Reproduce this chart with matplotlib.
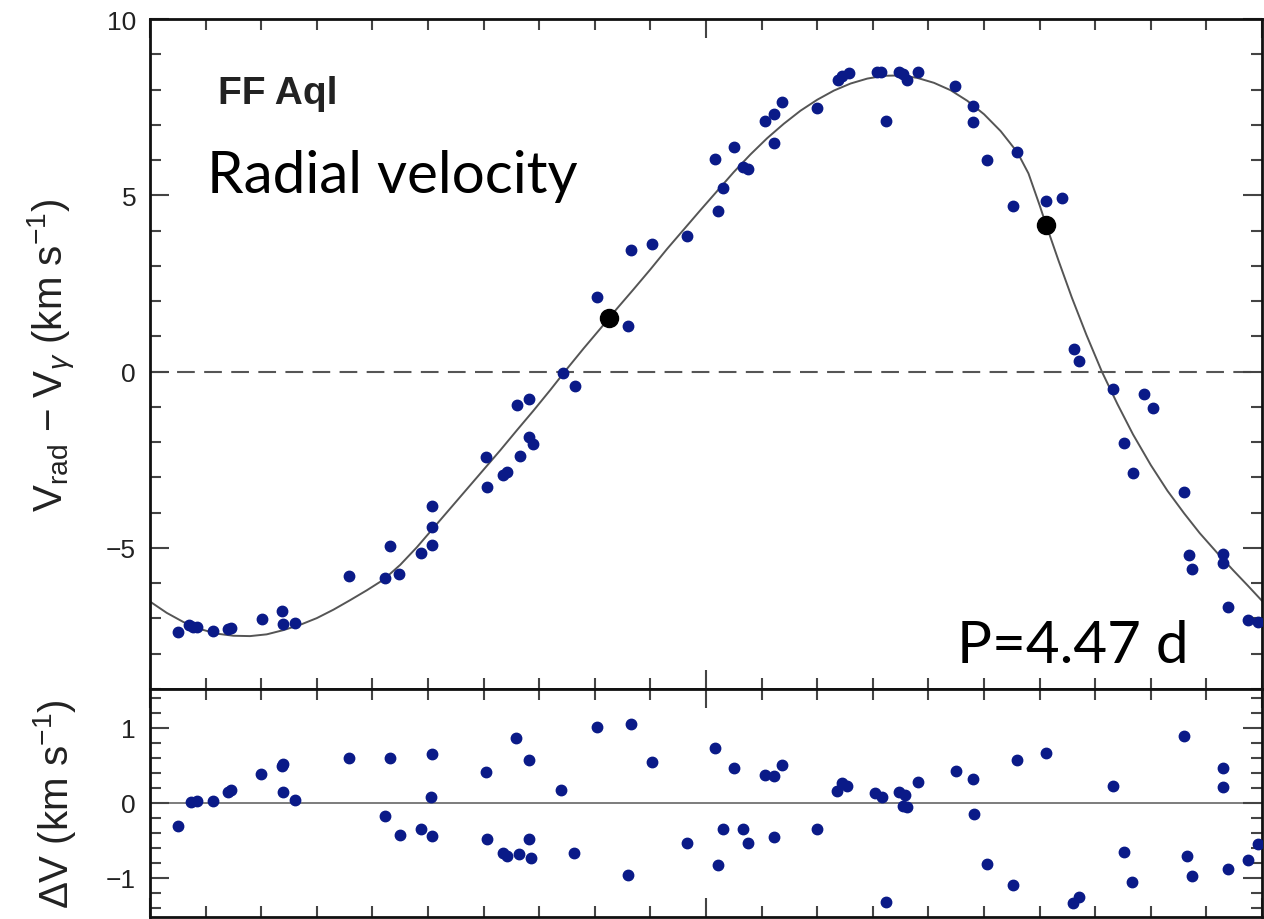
import matplotlib
matplotlib.use("Agg")
import matplotlib.pyplot as plt
from matplotlib.ticker import MultipleLocator

# ---------------- data ----------------
rv_phase = [0.025, 0.035, 0.039, 0.042, 0.057, 0.070, 0.073, 0.101, 0.119, 0.120,
            0.130, 0.179, 0.211, 0.216, 0.224, 0.244, 0.254, 0.254, 0.254, 0.302,
            0.303, 0.317, 0.321, 0.333, 0.341, 0.344, 0.330, 0.341, 0.371, 0.382,
            0.402, 0.430, 0.433, 0.451, 0.483, 0.508, 0.511, 0.515, 0.525, 0.533,
            0.538, 0.553, 0.561, 0.568, 0.561, 0.600, 0.619, 0.622, 0.629, 0.654,
            0.657, 0.662, 0.674, 0.677, 0.681, 0.691, 0.724, 0.740, 0.740, 0.753,
            0.780, 0.776, 0.806, 0.820, 0.831, 0.835, 0.866, 0.894, 0.902, 0.876,
            0.884, 0.930, 0.934, 0.937, 0.965, 0.965, 0.969, 0.987, 0.996]
rv_value = [-7.39, -7.19, -7.24, -7.24, -7.36, -7.30, -7.27, -7.02, -6.79, -7.16,
            -7.13, -5.80, -5.85, -4.94, -5.74, -5.14, -4.91, -4.40, -3.81, -2.41,
            -3.27, -2.93, -2.84, -2.39, -1.85, -2.05, -0.94, -0.77, -0.03, -0.40,
            2.13, 1.28, 3.44, 3.61, 3.84, 6.02, 4.55, 5.20, 6.36, 5.80,
            5.74, 7.10, 7.30, 7.64, 6.48, 7.47, 8.27, 8.38, 8.47, 8.49,
            8.49, 7.10, 8.49, 8.44, 8.27, 8.49, 8.10, 7.53, 7.07, 5.99,
            6.22, 4.69, 4.83, 4.91, 0.65, 0.31, -0.48, -0.63, -1.02, -2.02,
            -2.87, -3.41, -5.20, -5.60, -5.17, -5.43, -6.68, -7.05, -7.10]

special_phase = [0.413, 0.806]
special_value = [1.53, 4.15]

model_phase = [0.000, 0.015, 0.030, 0.045, 0.060, 0.075, 0.090, 0.105, 0.120, 0.135,
               0.150, 0.165, 0.180, 0.195, 0.210, 0.225, 0.240, 0.255, 0.270, 0.285,
               0.300, 0.315, 0.330, 0.345, 0.360, 0.375, 0.390, 0.405, 0.420, 0.435,
               0.450, 0.465, 0.480, 0.495, 0.510, 0.525, 0.540, 0.555, 0.570, 0.585,
               0.600, 0.615, 0.630, 0.645, 0.660, 0.675, 0.690, 0.705, 0.720, 0.735,
               0.750, 0.765, 0.780, 0.790, 0.800, 0.806, 0.817, 0.829, 0.842, 0.856,
               0.870, 0.884, 0.900, 0.915, 0.930, 0.944, 0.960, 0.974, 0.987, 1.000]
model_value = [-6.52, -6.84, -7.10, -7.30, -7.43, -7.49, -7.50, -7.45, -7.33, -7.18,
               -6.99, -6.75, -6.48, -6.20, -5.90, -5.48, -4.98, -4.43, -3.88, -3.33,
               -2.78, -2.23, -1.66, -1.10, -0.52, 0.08, 0.66, 1.22, 1.79, 2.34,
               2.90, 3.48, 4.03, 4.58, 5.12, 5.66, 6.16, 6.62, 7.03, 7.40,
               7.71, 7.97, 8.17, 8.31, 8.39, 8.40, 8.33, 8.19, 7.98, 7.68,
               7.30, 6.82, 6.22, 5.62, 4.72, 4.15, 3.15, 2.10, 1.05, 0.00,
               -0.92, -1.78, -2.65, -3.38, -4.02, -4.58, -5.15, -5.63, -6.06, -6.50]

res_phase = [0.025, 0.037, 0.042, 0.057, 0.070, 0.073, 0.100, 0.119, 0.120, 0.120,
             0.130, 0.179, 0.216, 0.211, 0.225, 0.244, 0.254, 0.253, 0.254, 0.302,
             0.303, 0.317, 0.321, 0.332, 0.341, 0.343, 0.329, 0.341, 0.370, 0.381,
             0.402, 0.433, 0.430, 0.451, 0.483, 0.508, 0.511, 0.515, 0.525, 0.533,
             0.538, 0.553, 0.561, 0.568, 0.561, 0.600, 0.618, 0.622, 0.627, 0.652,
             0.658, 0.662, 0.674, 0.679, 0.677, 0.681, 0.691, 0.725, 0.740, 0.741,
             0.753, 0.780, 0.776, 0.806, 0.830, 0.835, 0.866, 0.876, 0.883, 0.930,
             0.933, 0.937, 0.965, 0.965, 0.969, 0.987, 0.996]
res_value = [-0.31, 0.01, 0.03, 0.03, 0.15, 0.17, 0.39, 0.49, 0.52, 0.15,
             0.04, 0.60, 0.60, -0.17, -0.43, -0.35, -0.44, 0.08, 0.65, 0.41,
             -0.48, -0.67, -0.71, -0.68, -0.48, -0.73, 0.87, 0.57, 0.17, -0.67,
             1.01, 1.05, -0.96, 0.55, -0.53, 0.73, -0.83, -0.35, 0.47, -0.35,
             -0.53, 0.37, 0.36, 0.51, -0.45, -0.35, 0.16, 0.27, 0.23, 0.13,
             0.08, -1.32, 0.15, 0.11, -0.04, -0.05, 0.28, 0.43, 0.32, -0.15,
             -0.81, 0.57, -1.09, 0.67, -1.33, -1.25, 0.23, -0.65, -1.05, 0.89,
             -0.71, -0.97, 0.47, 0.21, -0.88, -0.76, -0.55]

star_name = "FF Aql"
panel_title = "Radial velocity"
period_text = "P=4.47 d"

# ---------------- style ----------------
W, H = 1264, 920
fig = plt.figure(figsize=(W / 100, H / 100), dpi=100)
plt.rcParams['font.family'] = ['Liberation Sans', 'DejaVu Sans']
plt.rcParams['mathtext.fontset'] = 'custom'
plt.rcParams['mathtext.rm'] = 'Liberation Sans'
plt.rcParams['mathtext.it'] = 'Liberation Sans:italic'

left, right = 150 / W, 1262 / W
top_y0, top_y1 = 1 - 690 / H, 1 - 20 / H
bot_y0, bot_y1 = 1 - 918 / H, 1 - 690 / H

ax1 = fig.add_axes([left, top_y0, right - left, top_y1 - top_y0])
ax2 = fig.add_axes([left, bot_y0, right - left, bot_y1 - bot_y0], sharex=ax1)

dot_color = '#0a1a88'
line_color = '#555555'
text_color = '#222222'

for ax in (ax1, ax2):
    for s in ax.spines.values():
        s.set_linewidth(2.0)
        s.set_color('#111111')
    ax.tick_params(which='both', direction='in', top=True, right=True,
                   color='#444444', labelsize=19, pad=10, labelcolor=text_color)
    ax.tick_params(which='major', length=14, width=1.5)
    ax.tick_params(which='minor', length=8, width=1.5)
    ax.xaxis.set_major_locator(MultipleLocator(0.5))
    ax.xaxis.set_minor_locator(MultipleLocator(0.05))

ax1.set_xlim(0, 1)
ax1.set_ylim(-9, 10)
ax1.yaxis.set_major_locator(MultipleLocator(5))
ax1.yaxis.set_minor_locator(MultipleLocator(1))
ax1.tick_params(labelbottom=False)

ax1.axhline(0, color=line_color, lw=1.5, dashes=(8.5, 4.5), zorder=1)
ax1.plot(model_phase, model_value, color=line_color, lw=1.4, zorder=2)
ax1.plot(rv_phase, rv_value, 'o', ms=7.5, color=dot_color, mec=dot_color, zorder=3)
ax1.plot(special_phase, special_value, 'o', ms=13, color='black', zorder=4)

ax1.set_ylabel(r'V$_{\rm rad}$ $-$ V$_{\gamma}$ (km s$^{-1}$)', fontsize=29,
               labelpad=20, color=text_color)
fig.text(218 / W, 1 - 104 / H, star_name,
         fontsize=28, fontweight='bold', color=text_color, ha='left', va='baseline')
fig.text(207 / W, 1 - 193 / H, panel_title,
         fontsize=42, family=['Lato', 'DejaVu Sans'], color='black',
         ha='left', va='baseline')
fig.text(957 / W, 1 - 663 / H, period_text,
         fontsize=42, family=['Lato', 'DejaVu Sans'], color='black',
         ha='left', va='baseline')

ax2.set_ylim(-1.52, 1.52)
ax2.yaxis.set_major_locator(MultipleLocator(1))
ax2.yaxis.set_minor_locator(MultipleLocator(0.2))
ax2.axhline(0, color='#666666', lw=1.2, zorder=1)
ax2.plot(res_phase, res_value, 'o', ms=7.5, color=dot_color, mec=dot_color, zorder=3)
ax2.tick_params(labelbottom=False)
ax2.set_ylabel(r'$\Delta$V (km s$^{-1}$)', fontsize=29, labelpad=20, color=text_color)

fig.align_ylabels([ax1, ax2])
fig.savefig('out.png', dpi=100)
